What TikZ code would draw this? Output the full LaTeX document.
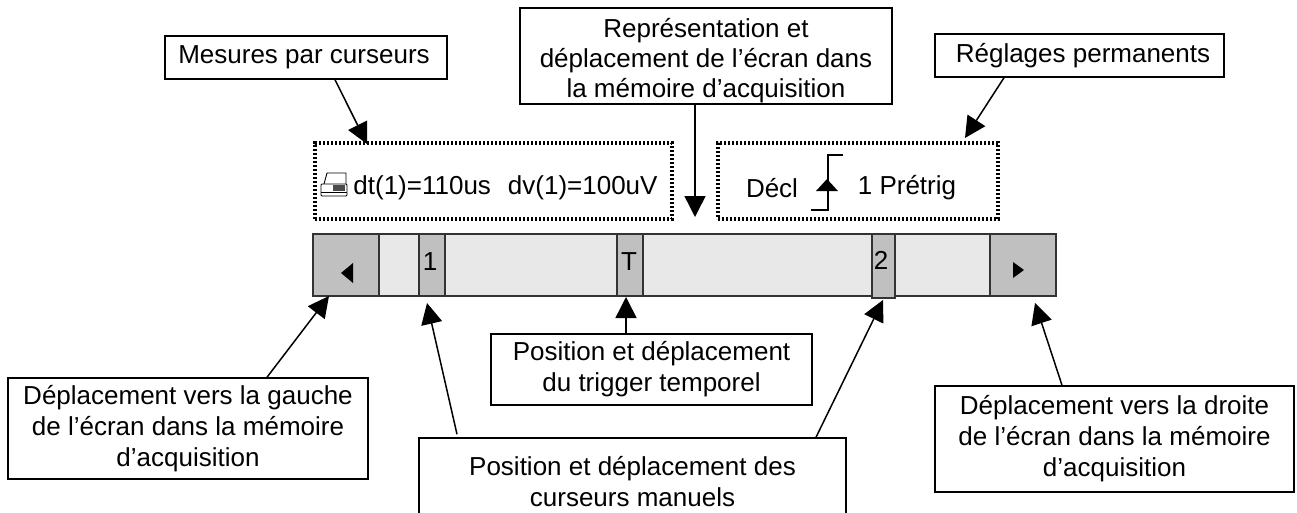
\documentclass[tikz,border=0pt]{standalone}
\usepackage{fontspec}
\setmainfont{Liberation Sans}
\usetikzlibrary{arrows.meta}
\definecolor{barlight}{HTML}{E8E8E8}
\definecolor{bardark}{HTML}{C0C0C0}
\tikzset{
    infobox/.style={draw, line width=1.5pt, fill=white, inner sep=0pt, align=center, font=\fontsize{26}{31}\selectfont},
    statusbox/.style={draw, line width=3.2pt, dash pattern=on 2.4pt off 1.6pt, inner sep=0pt},
    barpart/.style={draw=black!80, line width=1.5pt, inner sep=0pt, font=\fontsize{26}{31}\selectfont},
    pointer/.style={-{Triangle[length=21pt,width=21pt]}, line width=1.5pt},
    plain/.style={inner sep=0pt, font=\fontsize{26}{31}\selectfont}
}
\begin{document}
\begin{tikzpicture}[x=1pt,y=-1pt]
    \useasboundingbox (0,0) rectangle (1297,513);
    \clip (0,0) rectangle (1297,513);

    % Bar and its parts
    \node[barpart, fill=barlight, minimum width=743pt, minimum height=62pt] (bar) at (684.5,265) {};
    \node[barpart, fill=bardark, minimum width=66pt, minimum height=62pt] (btnleft) at (346,265) {};
    \node[barpart, fill=bardark, minimum width=66pt, minimum height=62pt] (btnright) at (1023,265) {};
    \node[barpart, fill=bardark, minimum width=26pt, minimum height=62pt] (cursone) at (432,265) {};
    \node[barpart, fill=bardark, minimum width=26pt, minimum height=62pt] (trigpos) at (630,265) {};
    \node[barpart, fill=bardark, minimum width=23pt, minimum height=64pt] (curstwo) at (883.5,266) {};
    \node[plain] (cursonetxt) at (430,262) {1};
    \node[plain] (trigpostxt) at (629,262) {T};
    \node[plain] (curstwotxt) at (881,260) {2};
    \fill (341,273) -- (353,263) -- (353,283) -- cycle;
    \fill (1024,270) -- (1013,262) -- (1013,278) -- cycle;

    % Status zones
    \node[statusbox, minimum width=357pt, minimum height=76pt] (measzone) at (493.5,181) {};
    \node[statusbox, minimum width=280pt, minimum height=76pt] (setzone) at (858,181) {};
    \node[plain] (meastxt) at (505.5,188) {dt(1)=110us\hspace{17pt}dv(1)=100uV};
    \node[plain] (decltxt) at (772,188) {Décl};
    \node[plain] (pretrigtxt) at (907,188) {1 Prétrig};

    % Printer icon
    \draw[line width=0.9pt, rounded corners=1pt] (321,184) rectangle (347,196);
    \draw[line width=0.9pt] (321,192) -- (347,192);
    \draw[line width=0.9pt] (324,184) -- (327,173) -- (346,173) -- (346,184);
    \fill[black!70] (333,185) rectangle (345,191);

    % Slope symbol
    \draw[line width=1.5pt] (843,155) -- (828,155) -- (828,210) -- (811,210);
    \fill (827,179) -- (838,191) -- (816,191) -- cycle;

    % Boxes
    \node[infobox, minimum width=282pt, minimum height=43pt] (mesures) at (306,57.5) {\hspace{-4pt}Mesures par curseurs};
    \node[infobox, minimum width=372pt, minimum height=96pt] (repres) at (706,56) {\rule{0pt}{28pt}Représentation et\\[-1pt]déplacement de l’écran dans\\[-1pt]la mémoire d’acquisition};
    \node[infobox, minimum width=289pt, minimum height=43pt] (reglages) at (1079.5,55.5) {\hspace{7pt}\raisebox{3pt}{Réglages permanents}};
    \node[infobox, minimum width=360pt, minimum height=101pt] (gauche) at (188,428.5) {Déplacement vers la gauche\\de l’écran dans la mémoire\\d’acquisition};
    \node[infobox, minimum width=321pt, minimum height=71pt] (trigger) at (651.5,369.5) {Position et déplacement\\du trigger temporel};
    \node[infobox, minimum width=427pt, minimum height=88pt] (curseurs) at (632.5,482) {Position et déplacement des\\curseurs manuels};
    \node[infobox, minimum width=359pt, minimum height=106pt] (droite) at (1114.5,439) {Déplacement vers la droite\\de l’écran dans la mémoire\\d’acquisition};

    % Arrow tips
    \coordinate (tipmesures) at (367,144);
    \coordinate (tiprepres) at (695,217);
    \coordinate (tipreglages) at (965,138);
    \coordinate (tipgauche) at (329,296);
    \coordinate (tipcursone) at (427,303);
    \coordinate (tiptrigger) at (626,297);
    \coordinate (tipcurstwo) at (883,300);
    \coordinate (tipdroite) at (1035,303);

    % Arrows
    \draw[pointer] ([xshift=29pt]mesures.south) -- (tipmesures);
    \draw[pointer] ([xshift=-11pt]repres.south) -- (tiprepres);
    \draw[pointer] ([xshift=-75.5pt]reglages.south) -- (tipreglages);
    \draw[pointer] ([xshift=79pt]gauche.north) -- (tipgauche);
    \draw[pointer] ([xshift=-175.5pt,yshift=3pt]curseurs.north) -- (tipcursone);
    \draw[pointer] ([xshift=-25.5pt]trigger.north) -- (tiptrigger);
    \draw[pointer] ([xshift=183.5pt]curseurs.north) -- (tipcurstwo);
    \draw[pointer] ([xshift=-52.5pt]droite.north) -- (tipdroite);
\end{tikzpicture}
\end{document}
